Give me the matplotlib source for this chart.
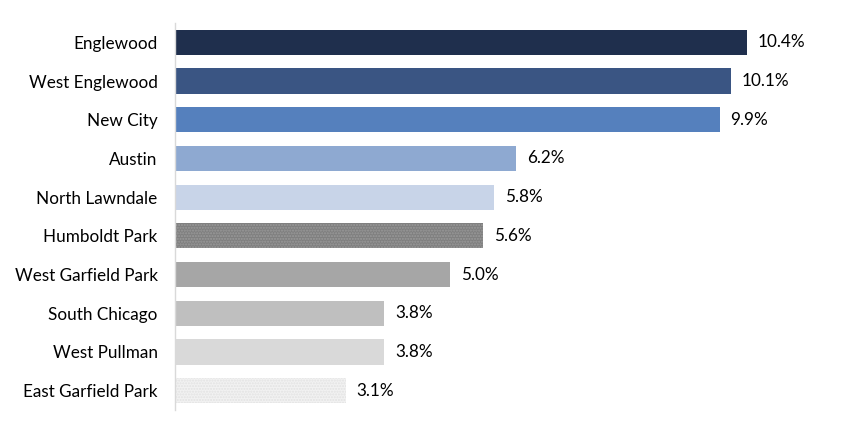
import matplotlib.pyplot as plt

plt.rcParams["font.family"] = ["Lato", "DejaVu Sans"]

neighborhoods = [
    "Englewood", "West Englewood", "New City", "Austin", "North Lawndale",
    "Humboldt Park", "West Garfield Park", "South Chicago", "West Pullman",
    "East Garfield Park",
]
rates = [10.4, 10.1, 9.9, 6.2, 5.8, 5.6, 5.0, 3.8, 3.8, 3.1]
colors = [
    "#1F2F4D", "#3A5583", "#5580BD", "#8EA9D1", "#C8D4E8",
    "#7F7F7F", "#A6A6A6", "#BFBFBF", "#D9D9D9", "#F2F2F2",
]
hatch_colors = {5: "#9A9A9A", 9: "#E2E2E2"}

fig = plt.figure(figsize=(8.58, 4.33), dpi=100)
ax = fig.add_axes([175 / 858, 1 - 410 / 433, 660 / 858, 387 / 433])

ys = list(range(len(neighborhoods)))
bars = ax.barh(ys, rates, height=0.65, color=colors, linewidth=0)
plt.rcParams["hatch.linewidth"] = 0.6
for i, bar in enumerate(bars):
    if i in hatch_colors:
        bar.set_hatch("......")
        bar.set_edgecolor(hatch_colors[i])
        bar.set_linewidth(0)

for y, v in zip(ys, rates):
    ax.text(v + 0.2, y, f"{v:.1f}%", va="center", ha="left", fontsize=12.3, color="#000000")

ax.set_xlim(0, 12)
ax.set_ylim(len(neighborhoods) - 0.5, -0.5)
ax.set_yticks(ys)
ax.set_yticklabels(neighborhoods, fontsize=12.3)
ax.tick_params(axis="y", length=0, pad=12.5)
ax.set_xticks([])
for side in ("top", "right", "bottom"):
    ax.spines[side].set_visible(False)
ax.spines["left"].set_color("#D9D9D9")
ax.spines["left"].set_linewidth(1)

fig.savefig("out.png", dpi=100)
